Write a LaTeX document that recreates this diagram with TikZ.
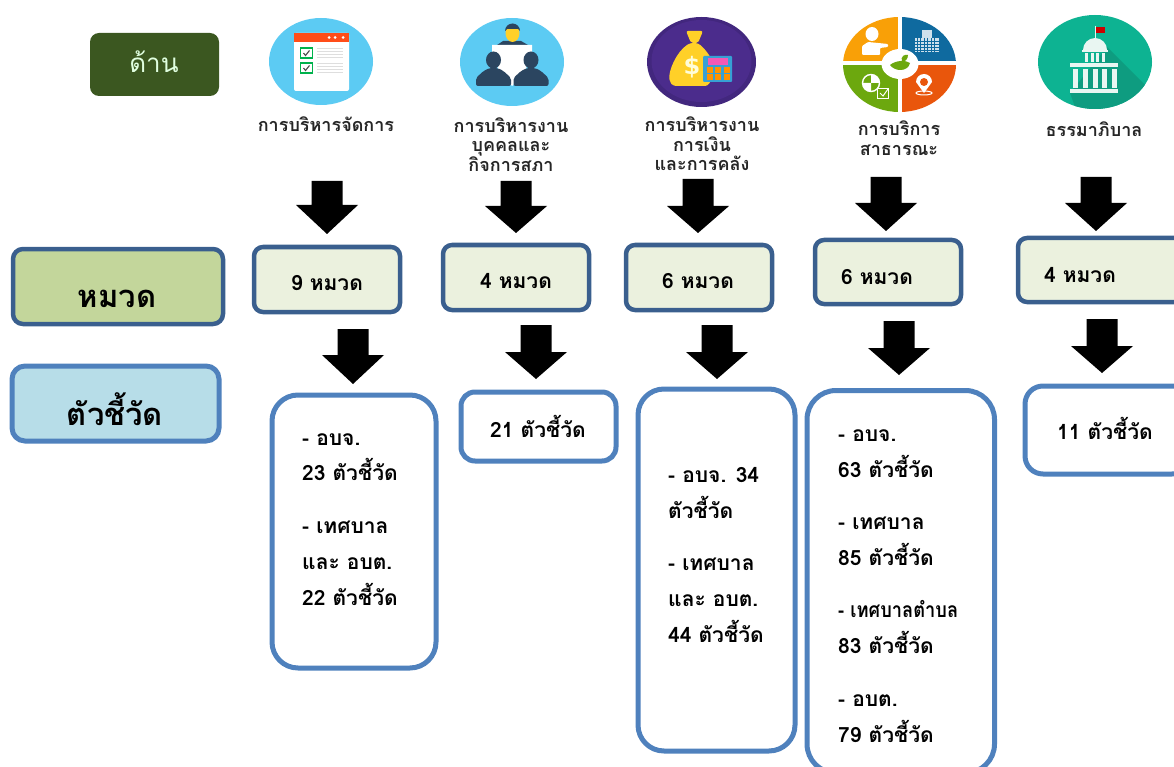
\documentclass[tikz,border=0pt]{standalone}
\usepackage{fontspec}
\usepackage{graphicx}
\newfontfamily\thaifont[Script=Thai]{Loma}
\usetikzlibrary{calc}
\definecolor{navy}{HTML}{3A5F8E}
\definecolor{blue}{HTML}{4F81BD}
\definecolor{pale}{HTML}{EBF1DE}
\definecolor{olive}{HTML}{C3D69B}
\definecolor{sky}{HTML}{B7DDE8}
\definecolor{dgreen}{HTML}{3B5720}
\definecolor{cyanbg}{HTML}{5CCBF3}
\definecolor{dark}{HTML}{2B4560}
\definecolor{purp}{HTML}{4B2C8C}
\definecolor{purpo}{HTML}{42277E}
\definecolor{bag}{HTML}{FFD028}
\definecolor{qo}{HTML}{F9A007}
\definecolor{qb}{HTML}{0F6A9F}
\definecolor{qg}{HTML}{6CA80E}
\definecolor{qr}{HTML}{E9560C}
\definecolor{tl}{HTML}{0DB392}
\definecolor{tls}{HTML}{0E9C80}
\definecolor{wht}{HTML}{E9F6F2}
\tikzset{x=1pt,y=-1pt,
 catbox/.style={draw=navy,line width=4.5pt,fill=pale,rounded corners=9pt},
 indbox/.style={draw=blue,line width=5pt,fill=white,rounded corners=26pt},
 lbl/.style={font=\thaifont\bfseries\fontsize{21}{24}\selectfont,text=black,inner sep=0pt,anchor=base west},
 lblc/.style={font=\thaifont\bfseries\fontsize{21}{24}\selectfont,text=black,inner sep=0pt,anchor=base},
 ttl/.style={font=\thaifont\bfseries\fontsize{18}{20}\selectfont,text=black!85,inner sep=0pt,anchor=base,align=center},
 blk/.style={fill=black}}
\newcommand{\blockarrow}[4]{% centre x, top y, tip y, shoulder y
 \fill[blk] (#1-15.5,#2) -- (#1+15.5,#2) -- (#1+15.5,#4) -- (#1+31,#4) -- (#1,#3) -- (#1-31,#4) -- (#1-15.5,#4) -- cycle;}
\begin{document}
\begin{tikzpicture}
\useasboundingbox (0,0) rectangle (1174,767);
\clip (0,0) rectangle (1174,767);
% legend boxes
\draw[fill=dgreen,draw=none,rounded corners=9pt] (90,33) rectangle (219,96);
\node[font=\thaifont\fontsize{26}{28}\selectfont,text=white!88!green,inner sep=0pt,anchor=base] (dan) at (154,73) {ด้าน};
\draw[draw=navy,line width=4.5pt,fill=olive,rounded corners=10pt] (13,249) rectangle (223,324);
\node[font=\thaifont\bfseries\fontsize{31}{34}\selectfont,inner sep=0pt,anchor=base] (hmuad) at (117,307) {หมวด};
\draw[draw=blue,line width=5pt,fill=sky,rounded corners=13pt] (12,366) rectangle (219,441);
\node[font=\thaifont\bfseries\fontsize{31}{34}\selectfont,inner sep=0pt,anchor=base] (tua) at (115,425) {ตัวชี้วัด};
% icon 1
\fill[cyanbg] (321,61.5) ellipse (52 and 43.5);
\fill[white,rounded corners=2pt] (294,33) rectangle (349,91);
\fill[red!55!orange!90!white] (294,33) rectangle (349,42);
\foreach \y in {48,63}{
 \draw[draw=teal!60!green,line width=1.4pt,fill=white] (300.5,\y) rectangle (312.5,\y+10);
 \draw[black!70,line width=1.1pt] (303.5,\y+5) -- (305.5,\y+7.5) -- (309.5,\y+2.5);
 \foreach \d in {0,3,6,9}{\draw[black!13,line width=.8pt] (317,\y+\d) -- (343,\y+\d);}
}
\foreach \x in {329,335,343}{\fill[white] (\x,37.5) circle (1.5);}
% icon 2
\fill[cyanbg] (512,62) ellipse (52 and 44);
\fill[dark] (497,45) -- (503,41) -- (521,41) -- (528,45) -- cycle;
\fill[bag] (512.5,33) ellipse (7 and 9);
\fill[dark] (505,31) arc (180:360:7.5 and 7.5) -- (518,29) -- (507,29) -- cycle;
\fill[white] (492,45) -- (532,45) -- (532,52) -- (524,74) -- (512,86) -- (500,74) -- (492,52) -- cycle;
\foreach \x in {493.5,531}{
 \fill[dark] (\x,60) ellipse (7.5 and 8.5);
 \fill[dark,rounded corners=2pt] (\x-17.5,86) -- (\x-17.5,78) -- (\x-10,71) -- (\x-4,68) -- (\x+4,68) -- (\x+10,71) -- (\x+17.5,78) -- (\x+17.5,86) -- cycle;
}
% icon 3
\fill[purpo] (701.5,62) ellipse (54.5 and 45);
\fill[purp] (701.5,61) ellipse (50 and 41);
\fill[bag,rounded corners=2pt] (686,31) -- (703,31) -- (698,43) -- (691,43) -- cycle;
\fill[bag,rounded corners=3pt] (690,43) .. controls (676,52) and (668,72) .. (670,82) -- (673,86) -- (708,86) -- (716,70) .. controls (712,58) and (706,50) .. (698,43) -- cycle;
\node[font=\fontspec{DejaVu Sans}\bfseries\fontsize{24}{24}\selectfont,text=white!85!yellow,inner sep=0pt] (dollar) at (692,67) {\$};
\fill[cyan!60!blue,rounded corners=1pt] (703,56) rectangle (732,82);
\fill[magenta!65!white] (708,58.5) rectangle (728,65);
\foreach \x in {710,718,727}{\foreach \y in {70,77}{\fill[orange!85!yellow] (\x-3,\y-3) rectangle (\x+3,\y+3);}}
% icon 4
\begin{scope}
\clip (899.5,64.5) ellipse (56.5 and 47.5);
\fill[qo] (840,15) rectangle (898,61.5);
\fill[qb] (902,15) rectangle (960,61.5);
\fill[qg] (840,65.5) rectangle (898,115);
\fill[qr] (902,65.5) rectangle (960,115);
\end{scope}
\fill[white] (900,64) ellipse (18.5 and 15);
\fill[qg] (890,65) .. controls (896,60) and (906,60) .. (910,63) .. controls (908,72) and (895,72) .. (890,65) -- cycle;
\fill[qg] (902,62) .. controls (900,56) and (905,54) .. (908,55) .. controls (908,59) and (905,62) .. (902,62) -- cycle;
\fill[white] (872,34) ellipse (6.5 and 7);
\fill[white,rounded corners=1pt] (862,55) -- (862,46) -- (868,42) -- (888,44) -- (888,47) -- (880,48) -- (880,55) -- cycle;
\fill[white!80!qb] (915,38) rectangle (939,52);
\fill[white!80!qb] (922,30) rectangle (932,38);
\foreach \x in {917,920.5,924,927.5,931,934.5}{\draw[qb,line width=.5pt] (\x,38) -- (\x,52);}
\foreach \y in {41,44,47,50}{\draw[qb,line width=.5pt] (915,\y) -- (939,\y);}
\draw[white,line width=1pt] (924,93) ellipse (8 and 2);
\fill[white] (924,93) -- (916,82) arc (180:360:8 and 8) -- cycle;
\fill[qr] (924,82) circle (4);
\draw[white,line width=1.4pt] (871,83) circle (8.5);
\fill[white] (871,74.5) arc (270:360:8.5) -- (871,83) -- cycle;
\fill[white] (871,91.5) arc (90:180:8.5) -- (871,83) -- cycle;
\draw[white,line width=.9pt] (877,88) rectangle (888,98);
\draw[white,line width=1pt] (880,93) -- (883,96) -- (888,89);
% icon 5
\fill[tl] (1095,62) ellipse (57 and 47);
\begin{scope}
\clip (1095,62) ellipse (57 and 47);
\fill[tls] (1107,47) -- (1147,87) -- (1147,115) -- (1078,115) -- (1070,93) -- cycle;
\end{scope}
\fill[red!80!black] (1096,27) rectangle (1105,33);
\draw[wht,line width=1pt] (1095,26) -- (1095,39);
\fill[wht] (1083,50) arc (180:360:12 and 12) -- cycle;
\fill[wht] (1082,50) rectangle (1108,52.5);
\foreach \x in {1085,1090.5,1096,1101.5}{\fill[wht] (\x,53) rectangle (\x+3,62);}
\fill[wht] (1070,63) rectangle (1118,67);
\foreach \x in {1075,1085,1095,1104,1114}{\fill[wht] (\x-2.5,69) rectangle (\x+2.5,88);}
\fill[wht] (1070,89) rectangle (1118,93);
% titles
\node[ttl] (t1) at (326,132) {การบริหารจัดการ};
\node[ttl] (t2a) at (511,133) {การบริหารงาน};
\node[ttl] (t2b) at (511,152) {บุคคลและ};
\node[ttl] (t2c) at (511,172) {กิจการสภา};
\node[ttl] (t3a) at (702,132) {การบริหารงาน};
\node[ttl] (t3b) at (702,152) {การเงิน};
\node[ttl] (t3c) at (702,171) {และการคลัง};
\node[ttl] (t4a) at (899,136) {การบริการ};
\node[ttl] (t4b) at (899,156) {สาธารณะ};
\node[ttl] (t5) at (1094,137) {ธรรมาภิบาล};
% arrows
\blockarrow{327}{181}{234}{205}
\blockarrow{516}{181}{233}{206}
\blockarrow{698}{179}{233}{206}
\blockarrow{886}{177}{231}{203}
\blockarrow{1096}{177}{231}{203}
\blockarrow{353}{329}{384}{355}
\blockarrow{536}{325}{379}{352}
\blockarrow{717}{325}{379}{352}
\blockarrow{899}{321}{375}{348}
\blockarrow{1102}{319}{373}{346}
% category boxes
\draw[catbox] (254,247) rectangle (400,312);
\draw[catbox] (443,245) rectangle (589,310);
\draw[catbox] (626,245) rectangle (772,310);
\draw[catbox] (815,240) rectangle (961,304);
\draw[catbox] (1018,238) rectangle (1190,302);
\node[lblc] (c1) at (327,290) {9 หมวด};
\node[lblc] (c2) at (516,288) {4 หมวด};
\node[lblc] (c3) at (698,288) {6 หมวด};
\node[lblc] (c4) at (877,284) {6 หมวด};
\node[lblc] (c5) at (1080,282) {4 หมวด};
% indicator boxes
\draw[indbox] (272,395) rectangle (436,668);
\draw[indbox,rounded corners=14pt] (461,392) rectangle (616,461);
\draw[indbox] (638,389) rectangle (795,751);
\draw[indbox,rounded corners=29pt] (807,390.5) rectangle (994.5,773);
\draw[indbox,rounded corners=18pt] (1025,386) rectangle (1190,474);
% indicator text
\node[lbl] (a1) at (302,445) {- อบจ.};
\node[lbl] (a2) at (302,480) {23 ตัวชี้วัด};
\node[lbl] (a3) at (302,533) {- เทศบาล};
\node[lbl] (a4) at (302,569) {และ อบต.};
\node[lbl] (a5) at (302,605) {22 ตัวชี้วัด};
\node[lblc] (b1) at (538,437) {21 ตัวชี้วัด};
\node[lbl] (d1) at (668,482) {- อบจ. 34};
\node[lbl] (d2) at (668,518) {ตัวชี้วัด};
\node[lbl] (d3) at (668,570) {- เทศบาล};
\node[lbl] (d4) at (668,606) {และ อบต.};
\node[lbl] (d5) at (668,642) {44 ตัวชี้วัด};
\node[lbl] (e1) at (838,441) {- อบจ.};
\node[lbl] (e2) at (838,477) {63 ตัวชี้วัด};
\node[lbl] (e3) at (838,529) {- เทศบาล};
\node[lbl] (e4) at (838,565) {85 ตัวชี้วัด};
\node[lbl] (e5) at (838,617) {\scalebox{0.87}[1]{- เทศบาลตำบล}};
\node[lbl] (e6) at (838,653) {83 ตัวชี้วัด};
\node[lbl] (e7) at (838,706) {- อบต.};
\node[lbl] (e8) at (838,742) {79 ตัวชี้วัด};
\node[lblc] (f1) at (1105,439) {11 ตัวชี้วัด};
\end{tikzpicture}
\end{document}
